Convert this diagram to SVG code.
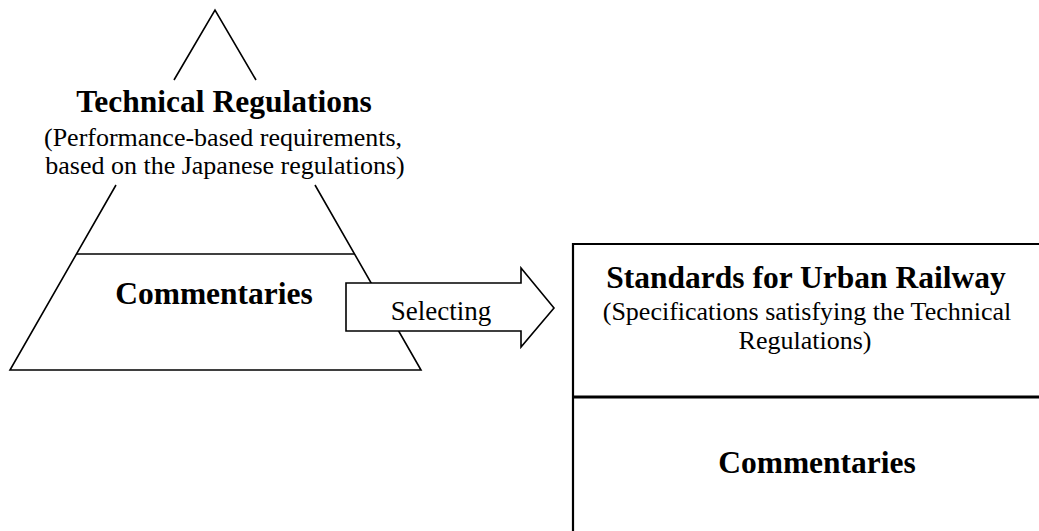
<svg xmlns="http://www.w3.org/2000/svg" width="1039" height="531" viewBox="0 0 1039 531">
<style>
.ln{stroke:#000;stroke-width:1.6;fill:none}
.bx{stroke:#000;stroke-width:2.2;fill:#fff}
.t{font-family:"Liberation Serif","Times New Roman",serif;fill:#000;text-anchor:middle}
.b{font-weight:bold;font-size:31.5px}
.r{font-size:26px}
</style>
<rect width="1039" height="531" fill="#fff"/>
<g id="pyramid">
<path class="ln" d="M174,80 L215,10 L256,80"/>
<path class="ln" d="M116,185 L10,370 L421,370 L315,185"/>
<line class="ln" x1="77" y1="254" x2="354" y2="254"/>
<text class="t b" x="224" y="112">Technical Regulations</text>
<text class="t r" x="223" y="146">(Performance-based requirements,</text>
<text class="t r" x="225" y="174">based on the Japanese regulations)</text>
<text class="t b" x="214" y="304">Commentaries</text>
</g>
<g id="connectors">
<g id="selecting">
<path class="ln" fill="#fff" style="fill:#fff" d="M346,283 L521,283 L521,268 L554,308 L521,347 L521,331 L346,331 Z"/>
<text class="t" style="font-size:27px" x="441" y="320">Selecting</text>
</g>
</g>
<g id="standards">
<path class="bx" d="M1045,244 L573,244 L573,540"/>
<line x1="573" y1="397" x2="1045" y2="397" stroke="#000" stroke-width="3"/>
<text class="t b" x="806" y="288">Standards for Urban Railway</text>
<text class="t r" x="807" y="320">(Specifications satisfying the Technical</text>
<text class="t r" x="805" y="349">Regulations)</text>
<text class="t b" x="817" y="473">Commentaries</text>
</g>
</svg>
